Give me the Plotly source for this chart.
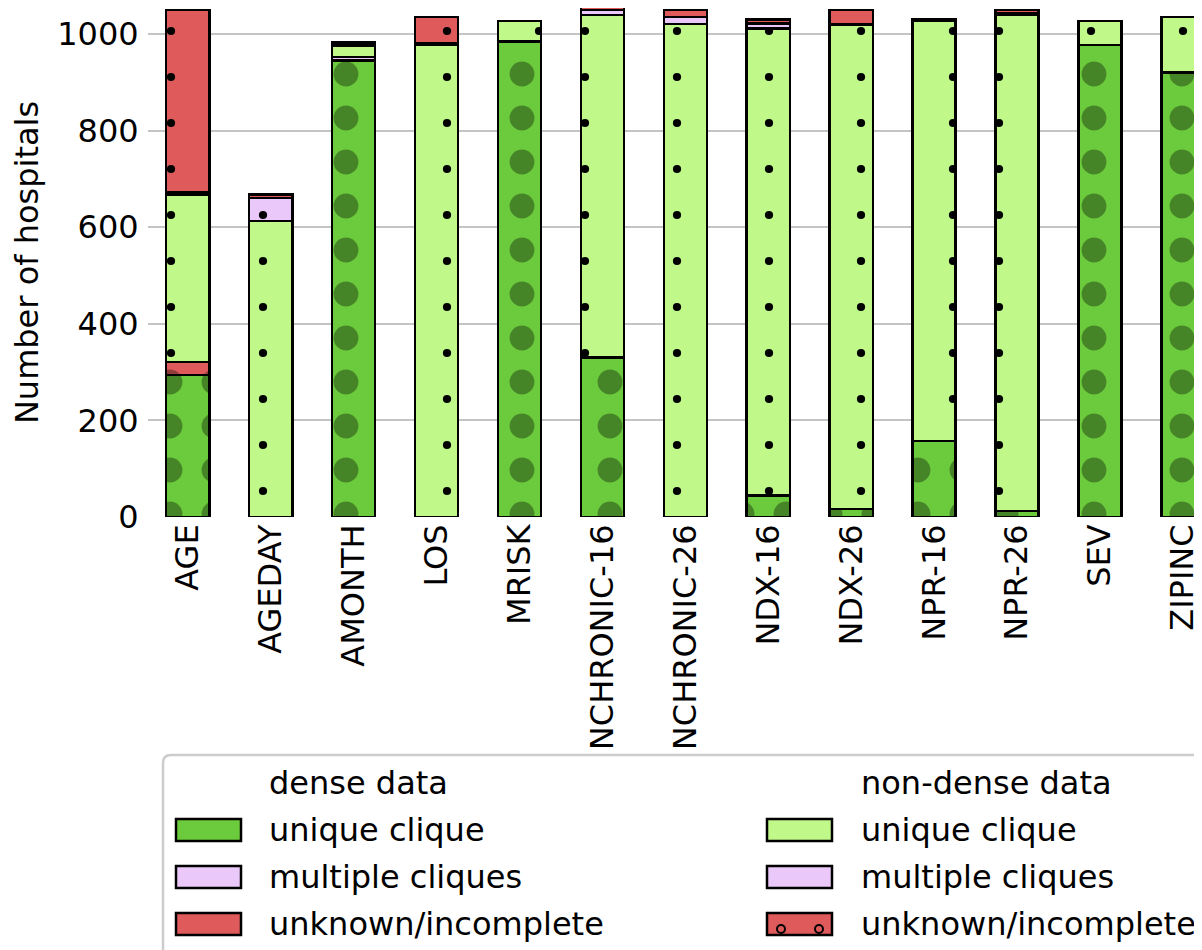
import plotly.graph_objects as go

categories = ["AGE", "AGEDAY", "AMONTH", "LOS", "MRISK", "NCHRONIC-16", "NCHRONIC-26",
              "NDX-16", "NDX-26", "NPR-16", "NPR-26", "SEV", "ZIPINC"]

dense_unique = [294, 0, 945, 0, 985, 330, 0, 45, 17, 157, 12, 977, 920]
dense_multiple = [0, 0, 8, 0, 0, 0, 0, 0, 0, 0, 0, 0, 0]
dense_unknown = [27, 0, 0, 0, 0, 0, 0, 0, 0, 0, 0, 0, 0]
nondense_unique = [347, 613, 22, 978, 42, 710, 1021, 967, 1003, 870, 1028, 50, 115]
nondense_multiple = [4, 48, 3, 3, 0, 10, 14, 10, 0, 3, 4, 0, 0]
nondense_unknown = [378, 7, 5, 54, 0, 6, 15, 8, 30, 0, 6, 0, 0]

yticks = [0, 200, 400, 600, 800, 1000]

C_DU = "#6CCB3D"
C_ND_U = "#C0F98A"
C_PINK = "#EBC8FA"
C_RED = "#DF5A5A"

series = [
    ("dense", "unique clique", dense_unique, C_DU),
    ("dense", "multiple cliques", dense_multiple, C_PINK),
    ("dense", "unknown/incomplete", dense_unknown, C_RED),
    ("nondense", "unique clique", nondense_unique, C_ND_U),
    ("nondense", "multiple cliques", nondense_multiple, C_PINK),
    ("nondense", "unknown/incomplete", nondense_unknown, C_RED),
]

FONT = "DejaVu Sans"
FS = 32
OFF = 8  # page body margin
W, H = 1194, 942
ML, MR, MT, MB = 140, 0, 0, 433

fig = go.Figure()
for grp, name, vals, col in series:
    if grp == "dense":
        pat = dict(shape=".", size=44, solidity=0.25, fgcolor="black", fgopacity=0.35, bgcolor=col)
    else:
        pat = dict(shape=".", size=46, solidity=0.025, fgcolor="black", fgopacity=1, bgcolor=col)
    fig.add_trace(go.Bar(
        x=categories,
        y=[v if v else None for v in vals],
        name=name,
        width=0.52,
        marker=dict(color=col, line=dict(color="black", width=2.5), pattern=pat),
        showlegend=False,
    ))

fig.update_layout(
    barmode="stack",
    width=W, height=H,
    margin=dict(l=ML, r=MR, t=MT, b=MB, autoexpand=False),
    paper_bgcolor="white",
    plot_bgcolor="white",
    font=dict(family=FONT, size=FS, color="black"),
    xaxis=dict(
        range=[-0.48, 12.23],
        tickangle=-90,
        showgrid=False,
        showline=False,
        zeroline=False,
        ticks="", ticklen=0,
        tickfont=dict(family=FONT, size=FS),
    ),
    yaxis=dict(
        range=[0, 1054],
        tickvals=yticks,
        ticktext=[str(t) for t in yticks],
        showgrid=True, gridcolor="#c4c4c4", gridwidth=2,
        zeroline=False, showline=False,
        ticks="outside", ticklen=2, tickcolor="rgba(0,0,0,0)",
        tickfont=dict(family=FONT, size=FS),
        title=dict(text="Number of hospitals", font=dict(family=FONT, size=FS), standoff=10),
    ),
)

# manual legend (page pixel -> paper conversion)
PW = W - ML - MR
PH = H - MT - MB


def px(x):
    return (x - OFF - ML) / PW


def py(y):
    return (H - MB - (y - OFF)) / PH


shapes = []
annotations = []
x0, y0, x1, y1, r = 163, 755, 1240, 990, 8
path = (f"M {px(x0)},{py(y1)} L {px(x0)},{py(y0 + r)} "
        f"Q {px(x0)},{py(y0)} {px(x0 + r)},{py(y0)} L {px(x1)},{py(y0)} L {px(x1)},{py(y1)} Z")
shapes.append(dict(type="path", xref="paper", yref="paper", path=path,
                   fillcolor="rgba(255,255,255,0.85)", line=dict(color="#cccccc", width=2.5),
                   layer="above"))

cols = {"dense": (176, 267, "dense data"), "nondense": (767, 859, "non-dense data")}
row_y = [830, 877, 924]
for grp, (sx, tx, title) in cols.items():
    annotations.append(dict(x=px(tx), y=py(783), xref="paper", yref="paper", text=title,
                            showarrow=False, xanchor="left", yanchor="middle",
                            font=dict(family=FONT, size=FS)))
    items = [s for s in series if s[0] == grp]
    for i, (_, name, _, col) in enumerate(items):
        cy = row_y[i]
        shapes.append(dict(type="rect", xref="paper", yref="paper",
                           x0=px(sx), x1=px(sx + 65), y0=py(cy - 11), y1=py(cy + 11),
                           fillcolor=col, line=dict(color="black", width=2.5), layer="above"))
        if grp == "nondense" and name == "unknown/incomplete":
            for cx in (sx + 14, sx + 52):
                shapes.append(dict(type="circle", xref="paper", yref="paper",
                                   x0=px(cx - 4), x1=px(cx + 4), y0=py(cy + 9), y1=py(cy + 1),
                                   line=dict(color="black", width=2), layer="above"))
        annotations.append(dict(x=px(tx), y=py(cy), xref="paper", yref="paper", text=name,
                                showarrow=False, xanchor="left", yanchor="middle",
                                font=dict(family=FONT, size=FS)))

fig.update_layout(shapes=shapes, annotations=annotations)
fig.write_html("out.html")
